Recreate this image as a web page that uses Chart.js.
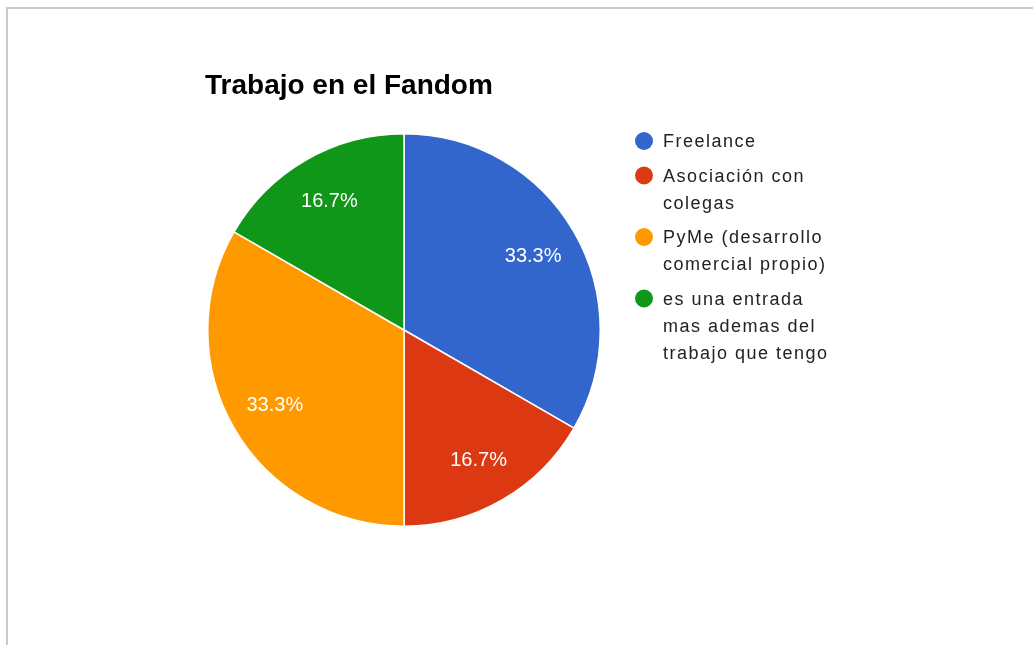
<!DOCTYPE html>
<html>
<head>
<meta charset="utf-8">
<title>Trabajo en el Fandom</title>
<script src="https://cdn.jsdelivr.net/npm/chart.js@4"></script>
<style>
  html, body { margin: 0; padding: 0; background: #fff; overflow: hidden; }
  #frame { position: absolute; left: 6px; top: 7px; width: 1100px; height: 700px;
           border-top: 2px solid #c9c9c9; border-left: 2px solid #c9c9c9; }
  #wrap { position: absolute; left: 0; top: 0; width: 1033px; height: 645px; }
</style>
</head>
<body>
<div id="frame"></div>
<div id="wrap"><canvas id="myChart" width="1033" height="645"></canvas></div>
<script>
const chartTitle = 'Trabajo en el Fandom';
const categories = [
  ['Freelance'],
  ['Asociación con', 'colegas'],
  ['PyMe (desarrollo', 'comercial propio)'],
  ['es una entrada', 'mas ademas del', 'trabajo que tengo']
];
const counts = [2, 1, 2, 1];
const sliceColors = ['#3366cc', '#dc3912', '#ff9900', '#109618'];
const FONT = '"Liberation Sans", Arial, sans-serif';

// title, legend on the right and percentage labels inside the slices
const pieText = {
  id: 'pieText',
  afterDatasetsDraw(chart) {
    const ctx = chart.ctx;
    const area = chart.chartArea;
    const total = counts.reduce((a, b) => a + b, 0);
    ctx.save();

    ctx.font = '20px ' + FONT;
    ctx.fillStyle = '#fff';
    ctx.textAlign = 'center';
    ctx.textBaseline = 'middle';
    chart.getDatasetMeta(0).data.forEach((arc, i) => {
      const p = arc.getProps(['x', 'y', 'startAngle', 'endAngle', 'outerRadius'], true);
      const mid = (p.startAngle + p.endAngle) / 2;
      const r = p.outerRadius * 0.76;
      const pct = (counts[i] / total * 100).toFixed(1) + '%';
      ctx.fillText(pct, p.x + Math.cos(mid) * r, p.y + Math.sin(mid) * r + 1);
    });

    ctx.textAlign = 'left';
    ctx.textBaseline = 'alphabetic';
    ctx.fillStyle = '#000';
    ctx.font = 'bold 28px ' + FONT;
    ctx.fillText(chartTitle, area.left - 2, area.top - 39);

    ctx.font = '18px ' + FONT;
    ctx.letterSpacing = '1.5px';
    let y = area.top + 14;
    categories.forEach((lines, i) => {
      ctx.fillStyle = sliceColors[i];
      ctx.beginPath();
      ctx.arc(area.right + 43, y - 6, 9, 0, Math.PI * 2);
      ctx.fill();
      ctx.fillStyle = '#222';
      lines.forEach(line => {
        ctx.fillText(line, area.right + 62, y);
        y += 27;
      });
      y += 7.5;
    });
    ctx.restore();
  }
};

new Chart('myChart', {
  type: 'pie',
  data: {
    labels: categories,
    datasets: [{
      data: counts,
      backgroundColor: sliceColors,
      borderColor: '#fff',
      borderWidth: 1.5
    }]
  },
  options: {
    responsive: false,
    animation: false,
    layout: { padding: { left: 207, top: 133, right: 432, bottom: 118 } },
    plugins: {
      legend: { display: false },
      title: { display: false }
    }
  },
  plugins: [pieText]
});
</script>
</body>
</html>
